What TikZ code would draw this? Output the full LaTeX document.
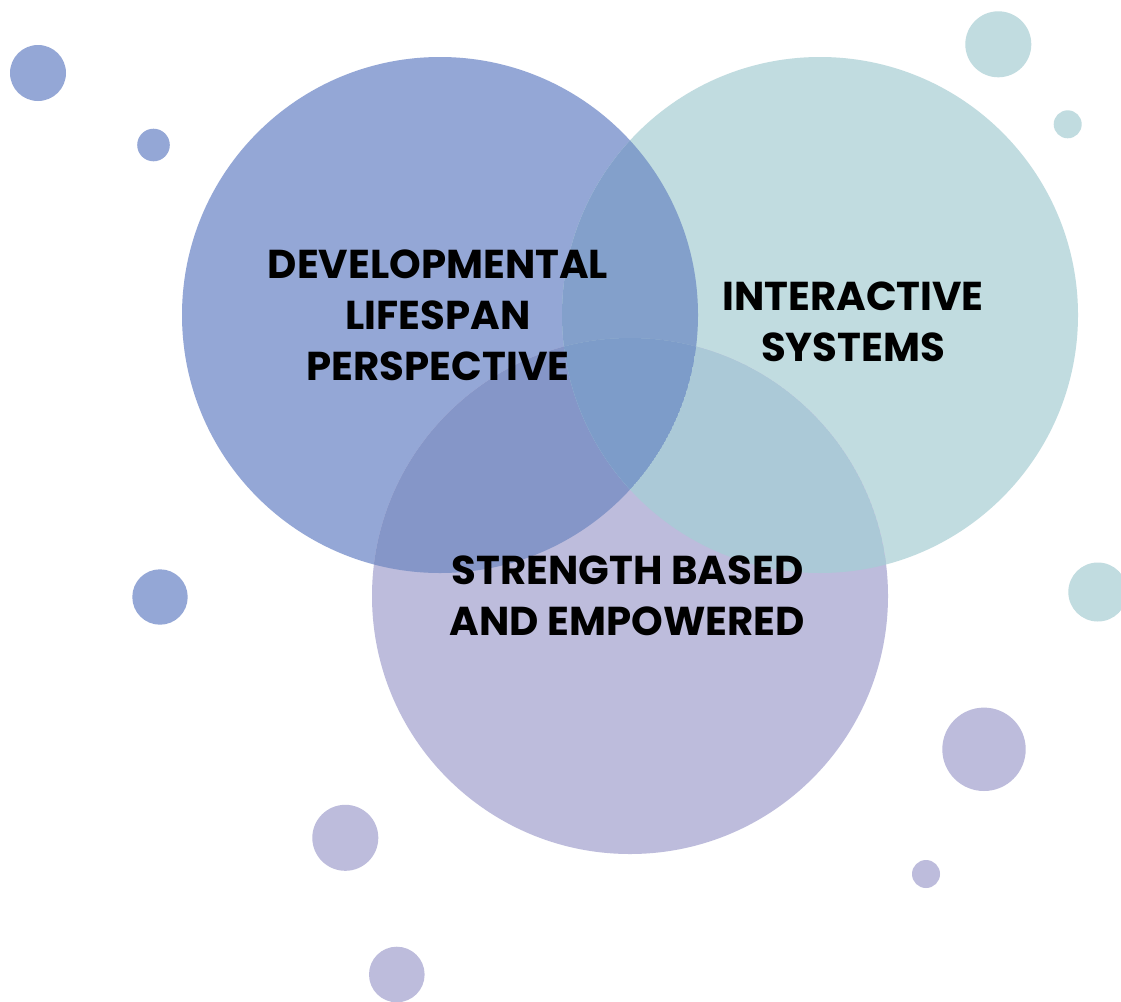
\documentclass[tikz,border=0pt]{standalone}
\usepackage{fontspec}
\setmainfont{Poppins}
\definecolor{cblue}{HTML}{94A7D6}
\definecolor{cteal}{HTML}{C1DCE0}
\definecolor{clav}{HTML}{BDBCDC}
\definecolor{cbt}{HTML}{83A0CB}
\definecolor{cbl}{HTML}{8596C8}
\definecolor{ctl}{HTML}{ABC9D7}
\definecolor{call}{HTML}{7D9CC9}
\tikzset{
  label/.style={align=center, inner sep=0pt, font=\fontsize{40.3}{51}\selectfont\bfseries, text=black},
}
\begin{document}
\begin{tikzpicture}[x=1pt,y=-1pt]
\useasboundingbox (0,0) rectangle (1121,1001);
\fill[white] (0,0) rectangle (1121,1001);
% small dots
\fill[cblue] (38,73) circle (28);
\fill[cblue] (153.5,145) circle (16.3);
\fill[cblue] (160,597) circle (27.7);
\fill[cteal] (998.3,44.3) circle (33);
\fill[cteal] (1067.7,124.3) circle (14);
\fill[cteal] (1097.8,592) circle (29.5);
\fill[clav] (984,749.3) circle (41.7);
\fill[clav] (345.3,837.8) circle (33);
\fill[clav] (926,874) circle (14);
\fill[clav] (396.8,974.5) circle (27.8);
% main circles
\coordinate (A) at (440,315);
\coordinate (B) at (820,315);
\coordinate (C) at (630,596);
\def\R{258}
\fill[cblue] (A) circle (\R);
\fill[cteal] (B) circle (\R);
\fill[clav] (C) circle (\R);
\begin{scope}
  \clip (A) circle (\R);
  \fill[cbt] (B) circle (\R);
  \fill[cbl] (C) circle (\R);
  \clip (B) circle (\R);
  \fill[call] (C) circle (\R);
\end{scope}
\begin{scope}
  \clip (B) circle (\R);
  \clip (C) circle (\R);
  \fill[ctl] (C) circle (\R);
  \clip (A) circle (\R);
  \fill[call] (A) circle (\R);
\end{scope}
% labels
\node[label] (dev) at (438,315) {DEVELOPMENTAL\\LIFESPAN\\PERSPECTIVE};
\node[label] (int) at (853,321.5) {INTERACTIVE\\SYSTEMS};
\node[label] (str) at (627.5,596) {STRENGTH BASED\\AND EMPOWERED};
\end{tikzpicture}
\end{document}
